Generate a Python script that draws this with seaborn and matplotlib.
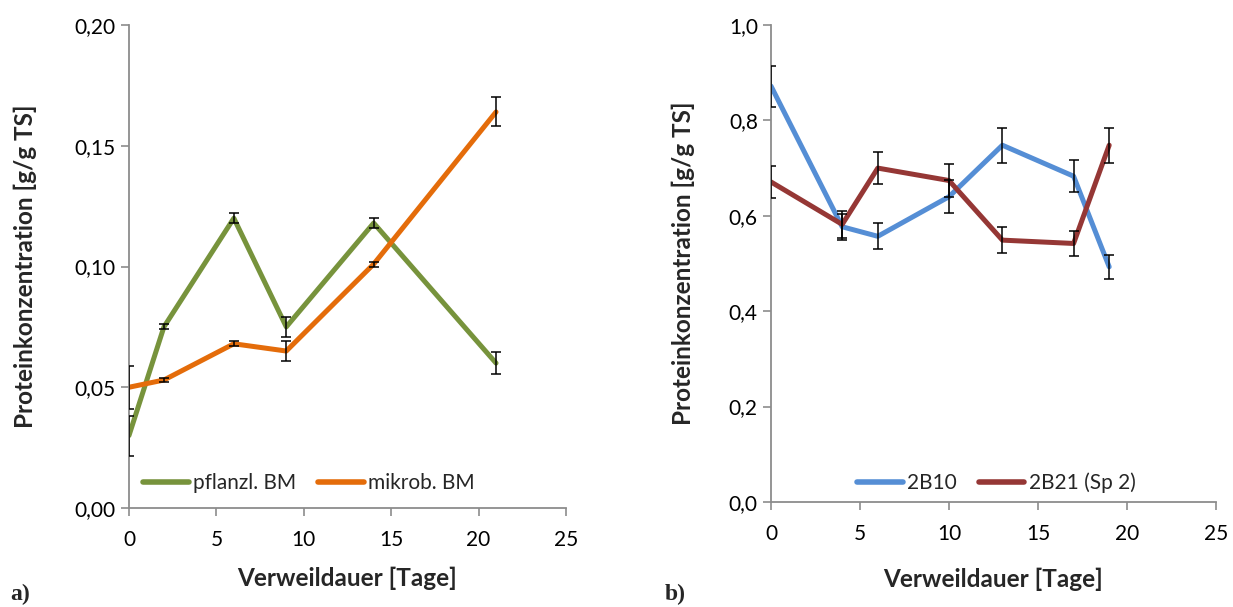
import matplotlib
matplotlib.use("Agg")
import matplotlib.pyplot as plt
from matplotlib.ticker import FuncFormatter, MultipleLocator
import numpy as np
import pandas as pd
import seaborn as sns

# Panel a) plant vs. microbial biomass
days_a = [0, 2, 6, 9, 14, 21]
pflanzl = [0.030, 0.075, 0.120, 0.075, 0.118, 0.060]
pflanzl_err = [0.0083, 0.001, 0.002, 0.004, 0.002, 0.0046]
mikrob = [0.050, 0.053, 0.068, 0.065, 0.101, 0.164]
mikrob_err = [0.009, 0.001, 0.001, 0.004, 0.001, 0.006]

# Panel b) two reactor samples
days_b = [0, 4, 6, 10, 13, 17, 19]
b10 = [0.872, 0.577, 0.557, 0.640, 0.748, 0.683, 0.493]
b10_err = [0.043, 0.027, 0.027, 0.035, 0.037, 0.034, 0.025]
b21 = [0.671, 0.582, 0.700, 0.674, 0.549, 0.542, 0.748]
b21_err = [0.033, 0.028, 0.034, 0.034, 0.028, 0.027, 0.037]

sns.set_theme(style="ticks")
plt.rcParams["font.family"] = ["Lato", "DejaVu Sans"]

fig = plt.figure(figsize=(12.33, 6.07), dpi=100)
ax_a = fig.add_axes([0.1046, 0.1631, 0.3544, 0.7957])
ax_b = fig.add_axes([0.6253, 0.1730, 0.3609, 0.7858])

GRAY = "#8c8c8c"


def draw_panel(ax, x, series, ylim, ystep, ydec, legend_anchor,
               ylabelpad, xlabelpad):
    rows = []
    for name, vals, errs, color in series:
        for xi, v in zip(x, vals):
            rows.append({"Tage": xi, "Wert": v, "Serie": name})
    df = pd.DataFrame(rows)
    palette = {name: color for name, _, _, color in series}
    sns.lineplot(data=df, x="Tage", y="Wert", hue="Serie", palette=palette,
                 linewidth=3.6, ax=ax, sort=False, zorder=2)
    for name, vals, errs, color in series:
        ax.errorbar(x, vals, yerr=errs, fmt="none", ecolor="black",
                    elinewidth=1.1, capsize=3.6, capthick=1.1, zorder=3)
    ax.set_xlim(0, 25)
    ax.set_ylim(*ylim)
    ax.xaxis.set_major_locator(MultipleLocator(5))
    ax.yaxis.set_major_locator(MultipleLocator(ystep))
    ax.yaxis.set_major_formatter(
        FuncFormatter(lambda v, p: f"{v:.{ydec}f}".replace(".", ",")))
    for s in ("top", "right"):
        ax.spines[s].set_visible(False)
    for s in ("left", "bottom"):
        ax.spines[s].set_color(GRAY)
        ax.spines[s].set_linewidth(1.3)
    ax.tick_params(axis="both", colors=GRAY, labelcolor="black",
                   labelsize=15, length=6, width=1.2, direction="out")
    ax.tick_params(axis="x", pad=10)
    ax.set_xlabel("Verweildauer [Tage]", fontsize=17.5, fontweight="bold",
                  labelpad=xlabelpad)
    ax.set_ylabel("Proteinkonzentration [g/g TS]", fontsize=17.5,
                  fontweight="bold", labelpad=ylabelpad)
    leg = ax.legend(loc="center", bbox_to_anchor=legend_anchor, ncol=2,
                    frameon=False, fontsize=15, handlelength=2.2,
                    handletextpad=0.2, columnspacing=1.05, borderaxespad=0)
    for h in leg.get_lines():
        h.set_linewidth(4)
        h.set_solid_capstyle("round")


draw_panel(ax_a, days_a,
           [("pflanzl. BM", pflanzl, pflanzl_err, "#77933c"),
            ("mikrob. BM", mikrob, mikrob_err, "#e46c0a")],
           (0, 0.20), 0.05, 2, (0.412, 0.052), 27, 12)

draw_panel(ax_b, days_b,
           [("2B10", b10, b10_err, "#558ed5"),
            ("2B21 (Sp 2)", b21, b21_err, "#953735")],
           (0, 1.0), 0.2, 1, (0.506, 0.04), 24, 17)

fig.text(0.008, 0.012, "a)", fontsize=17, fontweight="bold",
         family="Liberation Serif", va="baseline")
fig.text(0.539, 0.012, "b)", fontsize=17, fontweight="bold",
         family="Liberation Serif", va="baseline")

fig.savefig("out.png", dpi=100)
